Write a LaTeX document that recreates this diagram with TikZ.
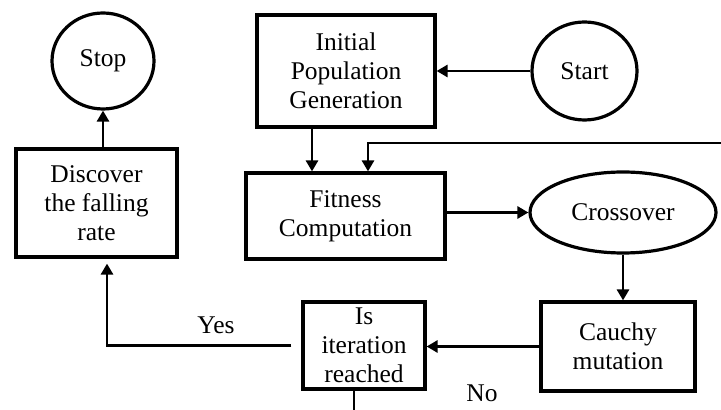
\documentclass[tikz,border=0pt]{standalone}
\usepackage{fontspec}
\setmainfont{Liberation Serif}
\usetikzlibrary{shapes.geometric,arrows.meta}
\begin{document}
\begin{tikzpicture}[x=0.5pt,y=-0.5pt,
  txt/.style={font=\fontsize{12.75}{14.4}\selectfont, align=center, inner sep=0pt},
  boxnode/.style={txt, draw, line width=1.6pt, rectangle},
  ovalnode/.style={txt, draw, line width=1.6pt, ellipse},
  conn/.style={line width=1.4pt},
  arr/.style={conn, -{Triangle[length=5.5pt,width=6pt]}}]
\useasboundingbox (0,0) rectangle (721,410);
\node[ovalnode, minimum width=51pt, minimum height=48pt] (stop) at (103,61) {Stop};
\node[boxnode, minimum width=80.5pt, minimum height=54pt] (disc) at (96.5,203) {Discover\\the falling\\rate};
\node[boxnode, minimum width=89pt, minimum height=56pt] (init) at (346,71) {Initial\\Population\\Generation};
\node[ovalnode, minimum width=52.5pt, minimum height=49pt] (start) at (584.5,71) {Start};
\node[boxnode, minimum width=99.5pt, minimum height=43pt] (fit) at (345.5,216) {Fitness\\Computation};
\node[ovalnode, minimum width=93pt, minimum height=40.5pt] (cross) at (623,212.5) {Crossover};
\node[boxnode, minimum width=77pt, minimum height=44.5pt] (cauchy) at (618,346.5) {Cauchy\\mutation};
\node[boxnode, minimum width=61pt, minimum height=43.5pt] (iter) at (364,345.5) {Is\\iteration\\reached};
\node[txt] (yes) at (216,325) {Yes};
\node[txt] (no) at (482,393) {No};
\coordinate (fbend) at (721,143);
\coordinate (nobottom) at (354,410);

\draw[arr] (stop.south |- disc.north) -- (stop.south);
\draw[arr] (start.west) -- (init.east);
\draw[arr] ([xshift=-17pt]init.south) -- ([xshift=-17pt]init.south |- fit.north);
\draw[arr] (fbend) -| ([xshift=11.25pt]fit.north);
\draw[arr] (fit.east |- cross.west) -- (cross.west);
\draw[arr] (cross.south) -- (cross.south |- cauchy.north);
\draw[arr] (cauchy.west) -- (cauchy.west -| iter.east);
\draw[arr] ([xshift=-5pt]iter.west) -| ([xshift=5.25pt,yshift=-2.5pt]disc.south);
\draw[conn] (nobottom |- iter.south) -- (nobottom);
\end{tikzpicture}
\end{document}
